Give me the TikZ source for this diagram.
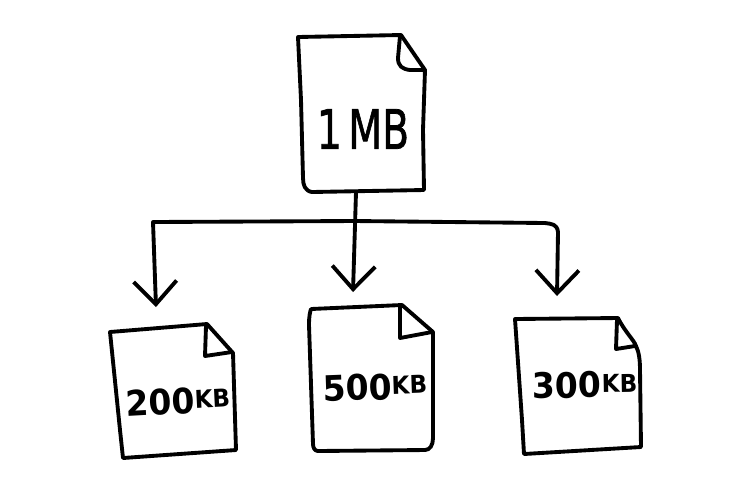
\documentclass[tikz,border=0pt]{standalone}
\usepackage{fontspec}
\setmainfont{DejaVu Sans}
\newfontfamily\heavyfont[FakeBold=1.4]{DejaVu Sans}
\usetikzlibrary{arrows.meta}
\newcommand{\kbmark}{\raisebox{2.6pt}{\fontsize{14}{14}\selectfont KB}}
\begin{document}
\begin{tikzpicture}[
  x=0.02cm, y=-0.02cm,
  sketch/.style={draw=black, line width=2.2pt, line cap=round, line join=round},
  arr/.style={sketch, -{Straight Barb[length=4.6mm, width=8.6mm, line width=2.2pt]}},
  bigsize/.style={font=\heavyfont\fontsize{31}{31}\selectfont, inner sep=0pt, xscale=0.72},
  smallsize/.style={font=\fontsize{20}{20}\selectfont\bfseries, inner sep=0pt, xscale=0.94},
]
\useasboundingbox (0,0) rectangle (750,485);
\fill[white] (0,0) rectangle (750,485);
\draw[sketch] (298,37) -- (350,36) -- (401,35) -- (425,70) -- (423,130) -- (424,190)
  -- (312,192) .. controls (305,191) and (303,185) .. (303,178) -- (301,100) -- cycle;
\draw[sketch] (400,36) -- (398,58) .. controls (398,66) and (402,69) .. (410,70) -- (425,70);
\draw[sketch] (110,332) -- (207,324) -- (233,353) -- (236,450) -- (123,458) -- (120,430) -- cycle;
\draw[sketch] (206,326) -- (205,356) -- (232,352);
\draw[sketch] (311,309) -- (402,305) -- (433,332) -- (433,438)
  .. controls (433,445) and (430,450) .. (425,450) -- (318,451) .. controls (315,451) and (313,448) .. (313,444) -- (309,325) .. controls (309,316) and (310,312) .. (311,309);
\draw[sketch] (400,307) -- (400,338) -- (432,332);
\draw[sketch] (515,319) -- (618,318) .. controls (625,332) and (634,340) .. (636,346)
  .. controls (639,352) and (640,360) .. (640,370) -- (641,447) -- (524,454) -- (522,420) -- cycle;
\draw[sketch] (617,320) -- (616,349) -- (635,346);
\node[bigsize] (bigtext) at (363,129) {1\,MB};
\node[smallsize, rotate=3] (lefttext) at (178,401) {200\kbmark};
\node[smallsize, rotate=2] (midtext) at (375,387) {500\kbmark};
\node[smallsize, rotate=1] (righttext) at (585,385) {300\kbmark};
\coordinate (bigdoc) at (356,192);
\coordinate (lefttip) at (156,307);
\coordinate (midtip) at (353,292);
\coordinate (righttip) at (557,296);
\coordinate (leftcorner) at (153,222);
\coordinate (rightcorner) at (557,224);
\draw[arr] (bigdoc) -- (midtip);
\draw[arr] (355,221) -- (leftcorner) -- (lefttip);
\draw[sketch] (355,221) -- (450,222) -- (545,223);
\draw[arr] (545,223) .. controls (552,224) and (rightcorner) .. (558,232) -- (righttip);
\end{tikzpicture}
\end{document}
